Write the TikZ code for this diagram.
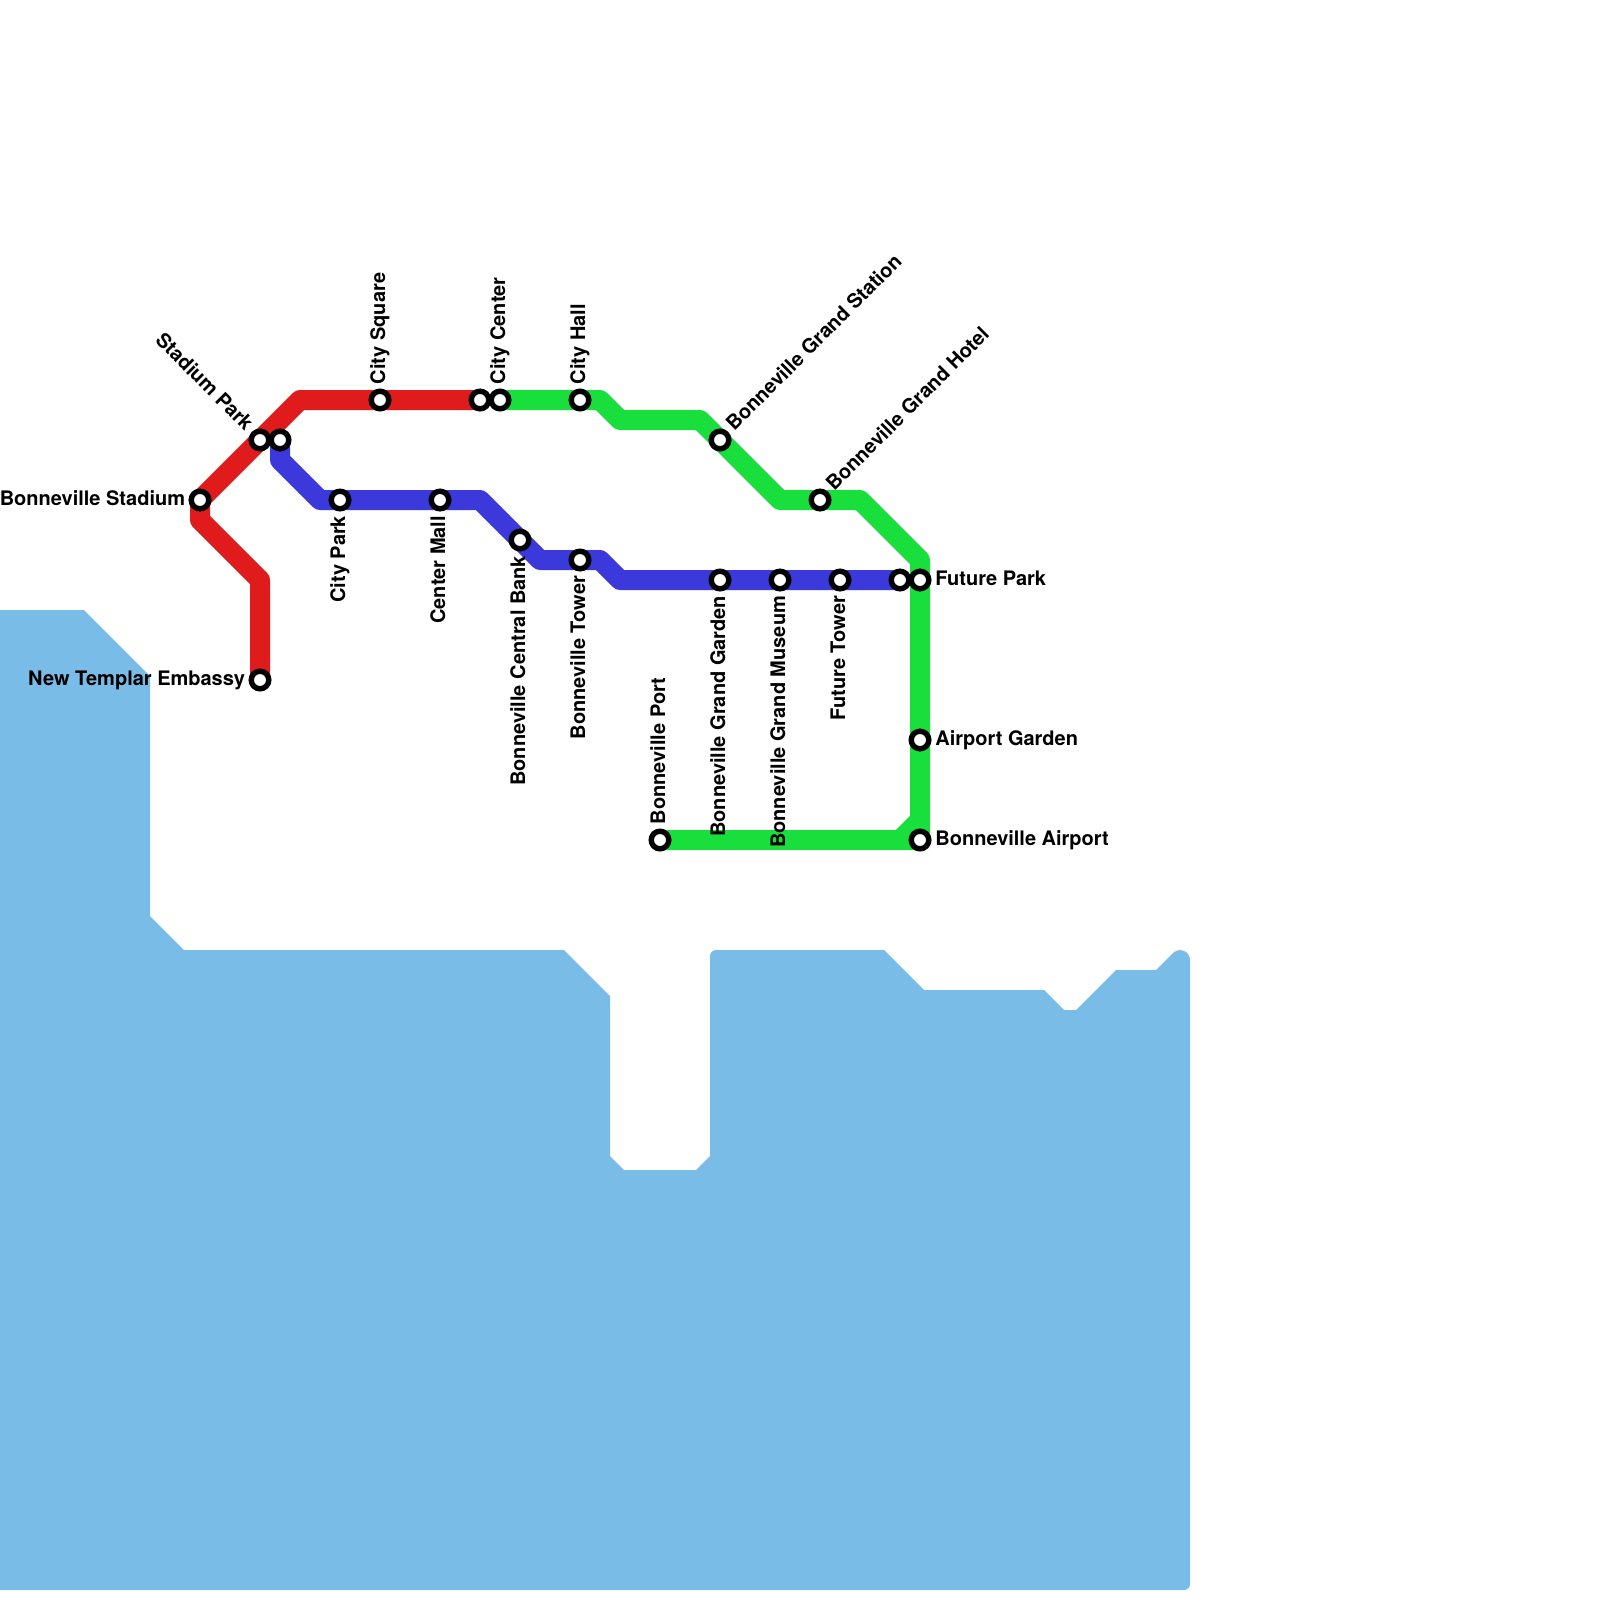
\documentclass[tikz,border=0pt]{standalone}
\usepackage{fontspec}
\setmainfont{TeX Gyre Heros}
\usetikzlibrary{backgrounds}
\definecolor{water}{RGB}{122,188,232}
\definecolor{redline}{RGB}{224,27,27}
\definecolor{blueline}{RGB}{59,56,220}
\definecolor{greenline}{RGB}{25,223,60}
\tikzset{
  x=0.5pt,y=-0.5pt,
  metro/.style={line width=10pt,line join=round,line cap=butt},
  station/.style={circle,draw=black,fill=white,line width=2.7pt,minimum size=8.8pt,inner sep=0pt},
  lbl/.style={inner sep=0pt,font=\fontsize{10}{12}\selectfont\bfseries,text=black}
}
\begin{document}
\begin{tikzpicture}
\useasboundingbox (0,0) rectangle (1600,1600);
% stations
\node[station] (stadium) at (200,500) {};
\node[station] (stadiumpark) at (260,440) {};
\node[station] (bluestart) at (280,440) {};
\node[station] (citysquare) at (380,400) {};
\node[station] (redend) at (480,400) {};
\node[station] (citycenter) at (500,400) {};
\node[station] (cityhall) at (580,400) {};
\node[station] (embassy) at (260,680) {};
\node[station] (citypark) at (340,500) {};
\node[station] (centermall) at (440,500) {};
\node[station] (centralbank) at (520,540) {};
\node[station] (tower) at (580,560) {};
\node[station] (garden) at (720,580) {};
\node[station] (museum) at (780,580) {};
\node[station] (futuretower) at (840,580) {};
\node[station] (blueend) at (900,580) {};
\node[station] (futurepark) at (920,580) {};
\node[station] (airportgarden) at (920,740) {};
\node[station] (airport) at (920,840) {};
\node[station] (port) at (660,840) {};
\node[station] (gstation) at (720,440) {};
\node[station] (ghotel) at (820,500) {};
% bends
\coordinate (r1) at (260,580);
\coordinate (r2) at (200,520);
\coordinate (r3) at (300,400);
\coordinate (b1) at (280,460);
\coordinate (b2) at (320,500);
\coordinate (b3) at (480,500);
\coordinate (b4) at (540,560);
\coordinate (b5) at (600,560);
\coordinate (b6) at (620,580);
\coordinate (g1) at (600,400);
\coordinate (g2) at (620,420);
\coordinate (g3) at (700,420);
\coordinate (g4) at (780,500);
\coordinate (g5) at (860,500);
\coordinate (g6) at (920,560);
\coordinate (g7) at (920,820);
\coordinate (g8) at (900,840);
\begin{pgfonlayer}{background}
\fill[water] (0,610) -- (84,610) -- (150,676) -- (150,916) -- (184,950) -- (564,950) -- (610,996) -- (610,1156) -- (624,1170) -- (696,1170) -- (710,1156) -- (710,956) arc[start angle=180,end angle=270,radius=6] -- (884,950) -- (924,990) -- (1044,990) -- (1064,1010) -- (1076,1010) -- (1116,970) -- (1156,970) -- (1173,953) arc[start angle=225,end angle=360,radius=10] -- (1190,1584) arc[start angle=0,end angle=90,radius=6] -- (0,1590) -- cycle;
\draw[metro,redline] (embassy.center) -- (r1) -- (r2) -- (stadium.center) -- (r3) -- (redend.center);
\draw[metro,blueline] (bluestart.center) -- (b1) -- (b2) -- (b3) -- (b4) -- (b5) -- (b6) -- (blueend.center);
\draw[metro,greenline] (citycenter.center) -- (g1) -- (g2) -- (g3) -- (g4) -- (g5) -- (g6) -- (airport.center) -- (port.center);
\fill[greenline] (g7) -- (g8) -- (airport.center) -- cycle;
\draw[metro,greenline] (g8) -- (g7);
\end{pgfonlayer}
% labels
\node[lbl,anchor=base east] (lstadium) at (185.5,505) {Bonneville Stadium};
\node[lbl,anchor=base east] (lembassy) at (245.5,685) {New Templar Embassy};
\node[lbl,anchor=base east,rotate=-45] (lstadiumpark) at (245,432) {Stadium Park};
\node[lbl,anchor=base west,rotate=90] (lsquare) at (385,384.5) {City Square};
\node[lbl,anchor=base west,rotate=90] (lcenter) at (505,384.5) {City Center};
\node[lbl,anchor=base west,rotate=90] (lhall) at (585,384.5) {City Hall};
\node[lbl,anchor=base east,rotate=90] (lpark) at (345,515.5) {City Park};
\node[lbl,anchor=base east,rotate=90] (lmall) at (445,515.5) {Center Mall};
\node[lbl,anchor=base east,rotate=90] (lbank) at (525,555.5) {Bonneville Central Bank};
\node[lbl,anchor=base east,rotate=90] (ltower) at (585,575.5) {Bonneville Tower};
\node[lbl,anchor=base east,rotate=90] (lgarden) at (725,595.5) {Bonneville Grand Garden};
\node[lbl,anchor=base east,rotate=90] (lmuseum) at (785,595.5) {Bonneville Grand Museum};
\node[lbl,anchor=base east,rotate=90] (lftower) at (845,595.5) {Future Tower};
\node[lbl,anchor=base west,rotate=90] (lport) at (665,824.5) {Bonneville Port};
\node[lbl,anchor=base west,rotate=45] (lgstation) at (734,432) {Bonneville Grand Station};
\node[lbl,anchor=base west,rotate=45] (lghotel) at (834,492) {Bonneville Grand Hotel};
\node[lbl,anchor=base west] (lfpark) at (935,585) {Future Park};
\node[lbl,anchor=base west] (lagarden) at (935,745) {Airport Garden};
\node[lbl,anchor=base west] (lairport) at (935,845) {Bonneville Airport};
\end{tikzpicture}
\end{document}
